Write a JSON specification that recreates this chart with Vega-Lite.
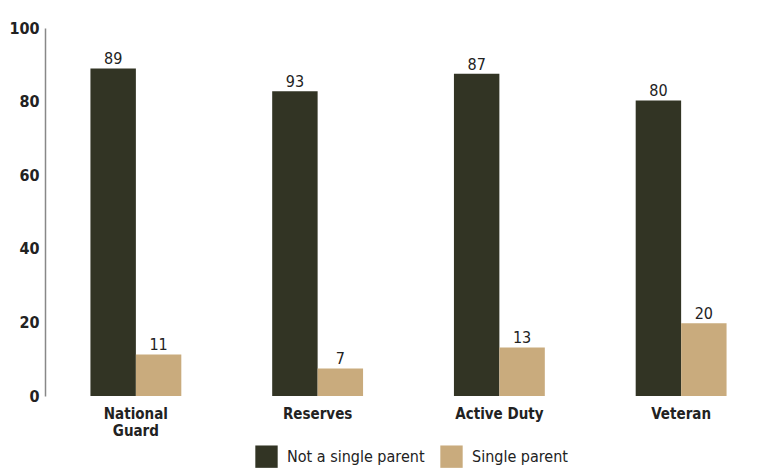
{
  "$schema": "https://vega.github.io/schema/vega-lite/v6.json",
  "width": 776,
  "height": 469,
  "autosize": {"type": "fit", "contains": "padding"},
  "padding": {"left": 8, "top": 20, "right": 4, "bottom": 31},
  "background": "white",
  "config": {"view": {"stroke": null}, "font": "'DejaVu Sans Condensed', Roboto, sans-serif"},
  "data": {
    "values": [
      {"service": "National Guard", "group": "Not a single parent", "value": 89, "label": "89"},
      {"service": "National Guard", "group": "Single parent", "value": 11.3, "label": "11"},
      {"service": "Reserves", "group": "Not a single parent", "value": 82.8, "label": "93"},
      {"service": "Reserves", "group": "Single parent", "value": 7.5, "label": "7"},
      {"service": "Active Duty", "group": "Not a single parent", "value": 87.6, "label": "87"},
      {"service": "Active Duty", "group": "Single parent", "value": 13.2, "label": "13"},
      {"service": "Veteran", "group": "Not a single parent", "value": 80.3, "label": "80"},
      {"service": "Veteran", "group": "Single parent", "value": 19.8, "label": "20"}
    ]
  },
  "encoding": {
    "x": {
      "field": "service", "type": "nominal",
      "sort": ["National Guard", "Reserves", "Active Duty", "Veteran"],
      "scale": {"paddingInner": 0.5, "paddingOuter": 0.25},
      "axis": {
        "title": null, "labelAngle": 0, "ticks": false, "domain": false,
        "labelFont": "'DejaVu Sans Condensed', Roboto, sans-serif", "labelFontWeight": "bold", "labelFontSize": 15,
        "labelColor": "#222", "labelPadding": 10, "labelLineHeight": 17,
        "labelExpr": "datum.label == 'National Guard' ? ['National', 'Guard'] : datum.label"
      }
    },
    "xOffset": {"field": "group", "type": "nominal", "sort": ["Not a single parent", "Single parent"]},
    "y": {
      "field": "value", "type": "quantitative",
      "scale": {"domain": [0, 100]},
      "axis": {
        "title": null, "values": [0, 20, 40, 60, 80, 100], "grid": false, "ticks": false,
        "domainColor": "#888", "domainWidth": 1.5,
        "labelFont": "'DejaVu Sans Condensed', Roboto, sans-serif", "labelFontWeight": "bold", "labelFontSize": 16,
        "labelColor": "#222", "labelPadding": 6
      }
    }
  },
  "layer": [
    {
      "mark": {"type": "bar"},
      "encoding": {
        "color": {
          "field": "group", "type": "nominal",
          "scale": {"domain": ["Not a single parent", "Single parent"], "range": ["#323424", "#c9ab7d"]},
          "legend": {
            "title": null, "orient": "none", "direction": "horizontal",
            "legendX": 210, "legendY": 417,
            "symbolType": "square", "symbolSize": 500, "symbolStrokeWidth": 0,
            "labelFont": "'DejaVu Sans Condensed', Roboto, sans-serif", "labelFontSize": 16, "labelColor": "#222",
            "columnPadding": 15, "labelOffset": 9
          }
        }
      }
    },
    {
      "mark": {"type": "text", "baseline": "bottom", "dy": -1, "fontSize": 16, "font": "'DejaVu Sans Condensed', Roboto, sans-serif", "color": "#222"},
      "encoding": {"text": {"field": "label"}}
    },
    {
      "mark": {"type": "rule", "color": "#666", "strokeWidth": 1.5},
      "encoding": {"y": {"datum": 0}}
    }
  ]
}
